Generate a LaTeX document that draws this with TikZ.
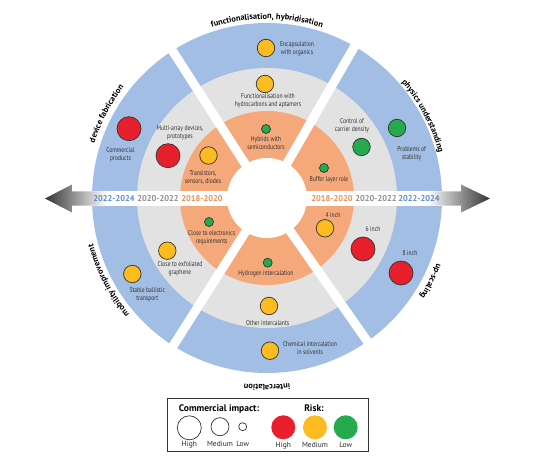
\documentclass[tikz,border=0pt]{standalone}
\usepackage{fontspec}
\setmainfont{PT Sans}
\newfontfamily\condfont{PT Sans}[FakeStretch=0.8]
\usetikzlibrary{decorations.text}
\definecolor{ringblue}{RGB}{162,190,228}
\definecolor{ringgrey}{RGB}{226,226,226}
\definecolor{ringorange}{RGB}{245,168,122}
\definecolor{riskred}{RGB}{232,32,45}
\definecolor{riskyellow}{RGB}{252,188,32}
\definecolor{riskgreen}{RGB}{38,170,78}
\definecolor{yearblue}{RGB}{90,140,205}
\definecolor{yeargrey}{RGB}{140,140,140}
\definecolor{yearorange}{RGB}{240,140,80}
\newcommand\seclab{\bfseries\fontsize{8.4pt}{10pt}\selectfont}
\begin{document}
\begin{tikzpicture}[x=1pt,y=1pt,
  dot/.style={circle, draw=black!80, line width=0.7pt, inner sep=0pt},
  hi/.style={dot, minimum size=24pt},
  med/.style={dot, minimum size=17.5pt},
  lo/.style={dot, minimum size=9pt},
  rR/.style={fill=riskred},
  rY/.style={fill=riskyellow},
  rG/.style={fill=riskgreen},
  lab/.style={font=\condfont\fontsize{7}{8}\selectfont, text=black!80, align=center, inner sep=0pt},
  year/.style={font=\fontsize{8.4}{10}\selectfont\bfseries, inner sep=0pt},
  gap/.style={white, line width=9pt},
  seclabel/.style={decorate, decoration={text along path, text align=center, text={|\seclab|#1}}},
  legtxt/.style={font=\fontsize{7.5}{9}\selectfont, text=black!85, inner sep=0pt, anchor=base},
  legdot/.style={circle, inner sep=0pt, minimum size=24pt},
]
\useasboundingbox (-267,-264) rectangle (267,198);
% rings
\fill[ringblue] (0,0) circle[radius=175];
\fill[ringgrey] (0,0) circle[radius=130];
\fill[ringorange] (0,0) circle[radius=87];
% gaps
\draw[gap] (0,0) -- (60:185);
\draw[gap] (0,0) -- (122.7:185);
\draw[gap] (0,0) -- (237.6:185);
\draw[gap] (0,0) -- (305:185);
\fill[white] (0,0) circle[radius=40];
% band and arrows
\fill[white] (-180,-7.7) rectangle (180,6.7);
\shade[left color=black!80, right color=white]
  (-222,-0.5) -- (-195,13.5) -- (-195,6.7) -- (-160,6.7) -- (-160,-7.7) -- (-195,-7.7) -- (-195,-14.5) -- cycle;
\shade[left color=white, right color=black!80]
  (223,-0.5) -- (194,13.5) -- (194,6.7) -- (160,6.7) -- (160,-7.7) -- (194,-7.7) -- (194,-14.5) -- cycle;
% year labels
\node[year, text=yearblue] (yl3) at (-153,-0.8) {2022-2024};
\node[year, text=yeargrey] (yl2) at (-109,-0.8) {2020-2022};
\node[year, text=yearorange] (yl1) at (-65,-0.8) {2018-2020};
\node[year, text=yearorange] (yr1) at (65,-0.8) {2018-2020};
\node[year, text=yeargrey] (yr2) at (109,-0.8) {2020-2022};
\node[year, text=yearblue] (yr3) at (152,-0.8) {2022-2024};
% sector labels
\path[seclabel={functionalisation, hybridisation}] (120:179) arc[start angle=120, end angle=60, radius=179];
\path[seclabel={physics understanding}] (50.7:177.5) arc[start angle=50.7, end angle=4.7, radius=177.5];
\path[seclabel={device fabrication}] (175.3:181) arc[start angle=175.3, end angle=129.3, radius=181];
\path[seclabel={mobility improvement}] (230.5:180) arc[start angle=230.5, end angle=184.5, radius=180];
\path[seclabel={up-scaling}] (-7:182) arc[start angle=-7, end angle=-47, radius=182];
\path[seclabel={intercalation}] (-70:187) arc[start angle=-70, end angle=-110, radius=187];
% top sector
\node[med, rY] (enc) at (-1,150) {};
\node[lab] (encl) at (30,149.5) {Encapsulation\\with organics};
\node[med, rY] (fun) at (-2,114) {};
\node[lab] (funl) at (1,97) {Functionalisation with\\hydrocarbons and aptamers};
\node[lo, rG] (hyb) at (-1,69) {};
\node[lab] (hybl) at (-1,54.5) {Hybrids with\\semiconductors};
% upper right
\node[lab] (ctrll) at (85,72) {Control of\\carrier density};
\node[med, rG] (ctrl) at (94.5,51) {};
\node[med, rG] (prob) at (130,70) {};
\node[lab] (probl) at (144.7,44.5) {Problems of\\stability};
\node[lo, rG] (buf) at (57,30) {};
\node[lab] (bufl) at (62,18) {Buffer layer role};
% upper left
\node[hi, rR] (com) at (-138,69.3) {};
\node[lab] (coml) at (-146.5,43) {Commercial\\products};
\node[lab] (multl) at (-87,65.5) {Multi-array devices,\\prototypes};
\node[hi, rR] (mult) at (-99,42.3) {};
\node[med, rY] (tra) at (-58.5,42.5) {};
\node[lab] (tral) at (-64,20) {Transistors,\\sensors, diodes};
% lower left
\node[lo, rG] (cel) at (-58,-24) {};
\node[lab] (cell) at (-55.3,-40) {Close to electronics\\requirements};
\node[med, rY] (exf) at (-99.7,-52.7) {};
\node[lab] (exfl) at (-87,-71) {Close to exfoliated\\graphene};
\node[med, rY] (sbt) at (-134.7,-76) {};
\node[lab] (sbtl) at (-119.7,-97) {Stable ballistic\\transport};
% bottom
\node[lo, rG] (hyd) at (0.7,-64.7) {};
\node[lab] (hydl) at (-1,-76) {Hydrogen intercalation};
\node[med, rY] (oth) at (2,-108) {};
\node[lab] (othl) at (0.7,-124.7) {Other intercalants};
\node[med, rY] (chm) at (3,-152.7) {};
\node[lab] (chml) at (43,-150) {Chemical intercalation\\in solvents};
% lower right
\node[lab] (in4l) at (66,-17) {4 inch};
\node[med, rY] (in4) at (58,-30.3) {};
\node[lab] (in6l) at (106,-31) {6 inch};
\node[hi, rR] (in6) at (96,-51) {};
\node[lab] (in8l) at (143,-54.7) {8 inch};
\node[hi, rR] (in8) at (134,-75) {};
% legend
\draw[black!80, line width=0.8pt] (-99.7,-200.3) rectangle (101.3,-253.7);
\node[font=\bfseries\fontsize{9.5}{11}\selectfont, anchor=base, inner sep=0pt] (lci) at (-48,-213) {Commercial impact:};
\node[font=\bfseries\fontsize{9.5}{11}\selectfont, anchor=base, inner sep=0pt] (lrk) at (47,-213) {Risk:};
\node[dot, fill=white, minimum size=24pt] (lch) at (-77.7,-229.8) {};
\node[dot, fill=white, minimum size=18pt] (lcm) at (-47,-228.7) {};
\node[dot, fill=white, minimum size=8pt] (lcl) at (-24.3,-228.7) {};
\node[legtxt] (lchl) at (-77.7,-248.6) {High};
\node[legtxt] (lcml) at (-47,-248.6) {Medium};
\node[legtxt] (lcll) at (-24.3,-248.6) {Low};
\node[legdot, fill=riskred] (lrh) at (16.3,-229.3) {};
\node[legdot, fill=riskyellow] (lrm) at (48,-229.3) {};
\node[legdot, fill=riskgreen] (lrl) at (78.7,-229.3) {};
\node[legtxt] (lrhl) at (16.3,-249.2) {High};
\node[legtxt] (lrml) at (48,-249.2) {Medium};
\node[legtxt] (lrll) at (78.7,-249.2) {Low};
\end{tikzpicture}
\end{document}
